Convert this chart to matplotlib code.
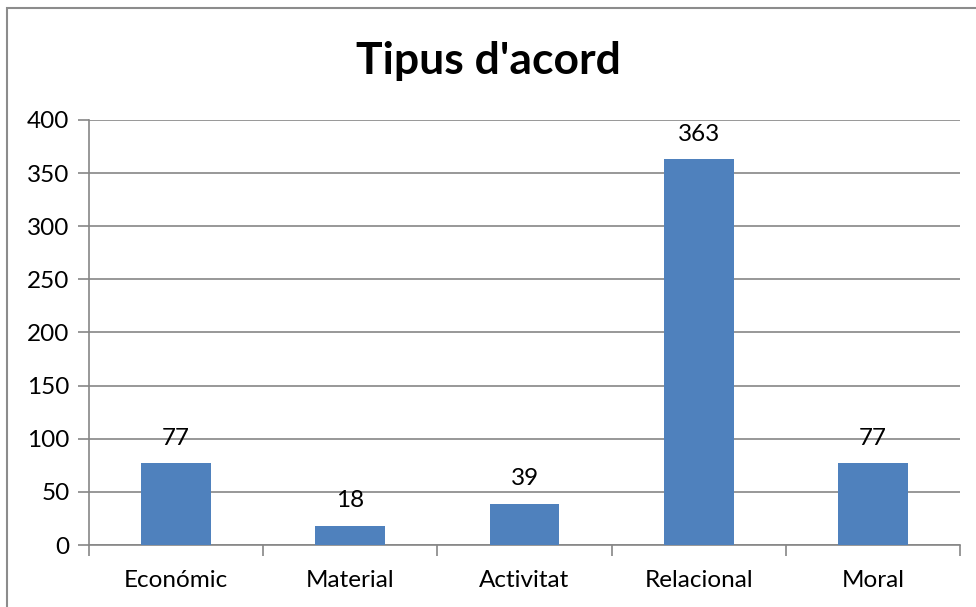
import matplotlib.pyplot as plt
from matplotlib.patches import Rectangle

categories = ["Económic", "Material", "Activitat", "Relacional", "Moral"]
values = [77, 18, 39, 363, 77]
yticks = [0, 50, 100, 150, 200, 250, 300, 350, 400]

plt.rcParams['font.family'] = ['Lato', 'DejaVu Sans']

W, H = 976, 607
fig = plt.figure(figsize=(W / 100, H / 100), dpi=100)
ax = fig.add_axes([89 / W, 1 - 545 / H, (960 - 89) / W, (545 - 120) / H])

grid_col = "#868686"
fs = 17.5
x = list(range(len(categories)))
bars = ax.bar(x, values, width=0.4, color="#4F81BD", zorder=3)
for xi, v in zip(x, values):
    ax.annotate(str(v), (xi, v), xytext=(0, 10.5), textcoords="offset points",
                ha="center", va="bottom", fontsize=fs, zorder=4)

ax.set_xlim(-0.5, len(categories) - 0.5)
ax.set_ylim(0, 400)
ax.set_yticks(yticks)
ax.set_yticklabels([str(t) for t in yticks])
ax.set_xticks(x)
ax.set_xticklabels(categories)
ax.set_xticks([i - 0.5 for i in range(len(categories) + 1)], minor=True)
ax.tick_params(axis="x", which="major", length=0, pad=18, labelsize=fs)
ax.tick_params(axis="x", which="minor", length=8, color=grid_col, width=1.2)
ax.tick_params(axis="y", length=8, color=grid_col, width=1.2, pad=6, labelsize=fs)
ax.yaxis.grid(True, color=grid_col, linewidth=1.2, zorder=0)
ax.set_axisbelow(True)
for s in ["top", "right"]:
    ax.spines[s].set_visible(False)
for s in ["left", "bottom"]:
    ax.spines[s].set_color(grid_col)
    ax.spines[s].set_linewidth(1.2)

fig.text(0.5, 1 - 61 / H, "Tipus d'acord", ha="center", va="center",
         fontsize=32, fontweight="bold")

fig.patches.append(Rectangle((6.5 / W, -0.05), 1.1, 1 - 7.5 / H + 0.05,
                             transform=fig.transFigure, fill=False,
                             edgecolor="#8c8c8c", linewidth=1.5))

fig.savefig("out.png", dpi=100)
